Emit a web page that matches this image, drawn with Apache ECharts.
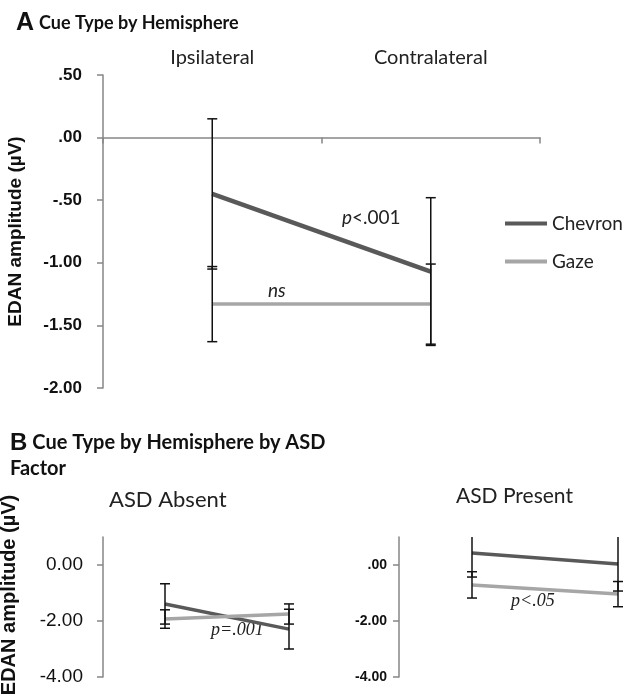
<!DOCTYPE html>
<html><head><meta charset="utf-8">
<script src="https://cdn.jsdelivr.net/npm/echarts@6/dist/echarts.min.js"></script>
<style>html,body{margin:0;padding:0;background:#fff}#c{width:627px;height:697px}</style>
</head><body><div id="c"></div>
<script>
// ---- data ----
const categories = ['Ipsilateral', 'Contralateral'];
const aChevron = [-0.45, -1.07];
const aChevronErr = [0.60, 0.59];
const aGaze = [-1.33, -1.33];
const aGazeErr = [0.30, 0.32];
const absentChevron = [-1.39, -2.29];
const absentChevronErr = [0.72, 0.71];
const absentGaze = [-1.93, -1.75];
const absentGazeErr = [0.33, 0.36];
const presentChevron = [0.43, 0.04];
const presentChevronErr = [0.86, 0.97];
const presentGaze = [-0.71, -1.04];
const presentGazeErr = [0.47, 0.45];
const aTickValues = [0.5, 0, -0.5, -1, -1.5, -2];
const aTickLabels = ['.50', '.00', '-.50', '-1.00', '-1.50', '-2.00'];
const bTickValues = [0, -2, -4];
const absentTickLabels = ['0.00', '-2.00', '-4.00'];
const presentTickLabels = ['.00', '-2.00', '-4.00'];

const CHEV = '#595959', GAZE = '#a6a6a6', AXIS = '#868686';
const SANS = 'Lato, "Noto Sans", sans-serif';
const ARIAL = '"Liberation Sans", Arial, sans-serif';

function labelFrom(values, labels) {
  return v => { const i = values.findIndex(t => Math.abs(t - v) < 1e-9); return i >= 0 ? labels[i] : ''; };
}

function errSeries(idx, vals, errs) {
  return {
    type: 'custom', xAxisIndex: idx === 0 ? 0 : idx + 1, yAxisIndex: idx, z: 5, silent: true,
    data: vals.map((v, i) => [i, v, errs[i]]),
    renderItem: (params, api) => {
      const x = api.value(0), v = api.value(1), e = api.value(2);
      const top = api.coord([x, v + e]), bot = api.coord([x, v - e]);
      const cs = params.coordSys;
      const yMin = cs.y, yMax = cs.y + cs.height;
      const px = top[0];
      let t = top[1], b = bot[1];
      const clipT = t < yMin, clipB = b > yMax;
      if (clipT) t = yMin;
      if (clipB) b = yMax;
      const st = { stroke: '#111', lineWidth: 1.5 };
      const ch = [{ type: 'line', shape: { x1: px, y1: t, x2: px, y2: b }, style: st }];
      if (!clipT) ch.push({ type: 'line', shape: { x1: px - 5, y1: t, x2: px + 5, y2: t }, style: st });
      if (!clipB) ch.push({ type: 'line', shape: { x1: px - 5, y1: b, x2: px + 5, y2: b }, style: st });
      return { type: 'group', children: ch };
    }
  };
}

function lineSeries(name, idx, vals, color, w) {
  return {
    name: name, type: 'line', xAxisIndex: idx === 0 ? 0 : idx + 1, yAxisIndex: idx,
    data: vals, symbol: 'none', z: 3, silent: true,
    lineStyle: { color: color, width: w }, itemStyle: { color: color }
  };
}

const chart = echarts.init(document.getElementById('c'));
chart.setOption({
  animation: false,
  backgroundColor: '#fff',
  title: [
    { left: 11, top: 6, text: '{a|A} {b|Cue Type by Hemisphere}',
      textStyle: { rich: {
        a: { fontFamily: ARIAL, fontWeight: 'bold', fontSize: 25, color: '#111' },
        b: { fontFamily: SANS, fontWeight: 'bold', fontSize: 18, color: '#111' } } } },
    { left: 5, top: 425, text: '{a|B} {b|Cue Type by Hemisphere by ASD}\n{b|Factor}',
      textStyle: { rich: {
        a: { fontFamily: ARIAL, fontWeight: 'bold', fontSize: 24, color: '#111', lineHeight: 26 },
        b: { fontFamily: SANS, fontWeight: 'bold', fontSize: 20, color: '#111', lineHeight: 26 } } } }
  ],
  legend: {
    data: ['Chevron', 'Gaze'], orient: 'vertical', left: 500, top: 209,
    icon: 'rect', itemWidth: 42, itemHeight: 4, itemGap: 19, itemTextGap: 5,
    textStyle: { fontFamily: SANS, fontSize: 19, color: '#222' }, selectedMode: false
  },
  grid: [
    { left: 103, top: 75, width: 437, height: 313, outerBoundsMode: 'none' },
    { left: 103, top: 537, width: 248, height: 140, outerBoundsMode: 'none' },
    { left: 399, top: 537, width: 292, height: 140, outerBoundsMode: 'none' }
  ],
  xAxis: [
    { gridIndex: 0, type: 'category', data: categories, position: 'bottom',
      axisLine: { onZero: true, lineStyle: { color: AXIS, width: 1.5 } },
      axisTick: { show: true, length: 6, lineStyle: { color: AXIS, width: 1.5 } },
      axisLabel: { show: false }, splitLine: { show: false } },
    { gridIndex: 0, type: 'category', data: categories, position: 'top',
      axisLine: { show: false, onZero: false }, axisTick: { show: false },
      axisLabel: { margin: 7, fontFamily: SANS, fontSize: 20, color: '#222' } },
    { gridIndex: 1, type: 'category', data: categories, show: false },
    { gridIndex: 2, type: 'category', data: categories, show: false }
  ],
  yAxis: [
    { gridIndex: 0, type: 'value', min: -2, max: 0.5, interval: 0.5,
      name: 'EDAN amplitude (µV)', nameLocation: 'middle', nameGap: 78,
      nameTextStyle: { fontFamily: ARIAL, fontWeight: 'bold', fontSize: 19, color: '#111' },
      axisLine: { show: true, lineStyle: { color: AXIS, width: 1.5 } },
      axisTick: { show: true, length: 6, lineStyle: { color: AXIS, width: 1.5 } },
      axisLabel: { margin: 21, fontFamily: ARIAL, fontWeight: 'bold', fontSize: 17, color: '#111',
        formatter: labelFrom(aTickValues, aTickLabels) },
      splitLine: { show: false } },
    { gridIndex: 1, type: 'value', min: -4, max: 1, interval: 2,
      name: 'EDAN amplitude (µV)', nameLocation: 'middle', nameGap: 84,
      nameTextStyle: { fontFamily: ARIAL, fontWeight: 'bold', fontSize: 20, color: '#111', padding: [0, 0, 0, 24] },
      axisLine: { show: true, lineStyle: { color: AXIS, width: 1.5 } },
      axisTick: { show: true, length: 6, customValues: bTickValues, lineStyle: { color: AXIS, width: 1.5 } },
      axisLabel: { margin: 20, fontFamily: ARIAL, fontSize: 19, color: '#111', customValues: bTickValues,
        formatter: labelFrom(bTickValues, absentTickLabels) },
      splitLine: { show: false } },
    { gridIndex: 2, type: 'value', min: -4, max: 1, interval: 2,
      axisLine: { show: true, lineStyle: { color: AXIS, width: 1.5 } },
      axisTick: { show: true, length: 6, customValues: bTickValues, lineStyle: { color: AXIS, width: 1.5 } },
      axisLabel: { margin: 12, fontFamily: ARIAL, fontWeight: 'bold', fontSize: 14, color: '#111', customValues: bTickValues,
        formatter: labelFrom(bTickValues, presentTickLabels) },
      splitLine: { show: false } }
  ],
  series: [
    lineSeries('Chevron', 0, aChevron, CHEV, 4.5),
    lineSeries('Gaze', 0, aGaze, GAZE, 3.5),
    errSeries(0, aChevron, aChevronErr),
    errSeries(0, aGaze, aGazeErr),
    lineSeries('Chevron', 1, absentChevron, CHEV, 3.5),
    lineSeries('Gaze', 1, absentGaze, GAZE, 3.5),
    errSeries(1, absentChevron, absentChevronErr),
    errSeries(1, absentGaze, absentGazeErr),
    lineSeries('Chevron', 2, presentChevron, CHEV, 3.5),
    lineSeries('Gaze', 2, presentGaze, GAZE, 3.5),
    errSeries(2, presentChevron, presentChevronErr),
    errSeries(2, presentGaze, presentGazeErr)
  ],
  graphic: [
    { type: 'text', left: 342, top: 208, style: { text: '{i|p}{n|<.001}',
      rich: { i: { fontFamily: SANS, fontStyle: 'italic', fontSize: 19, fill: '#222' },
              n: { fontFamily: SANS, fontSize: 19, fill: '#222' } } } },
    { type: 'text', left: 268, top: 281, style: { text: 'ns', font: 'italic 19px Lato, sans-serif', fill: '#222' } },
    { type: 'text', left: 211, top: 621, style: { text: 'p=.001', font: 'italic 18px "Liberation Serif", serif', fill: '#222' } },
    { type: 'text', left: 511, top: 592, style: { text: 'p<.05', font: 'italic 18px "Liberation Serif", serif', fill: '#222' } },
    { type: 'text', left: 109, top: 489, style: { text: 'ASD Absent', font: '22px Lato, sans-serif', fill: '#222' } },
    { type: 'text', left: 456, top: 486, style: { text: 'ASD Present', font: '21px Lato, sans-serif', fill: '#222' } }
  ]
});
</script></body></html>
